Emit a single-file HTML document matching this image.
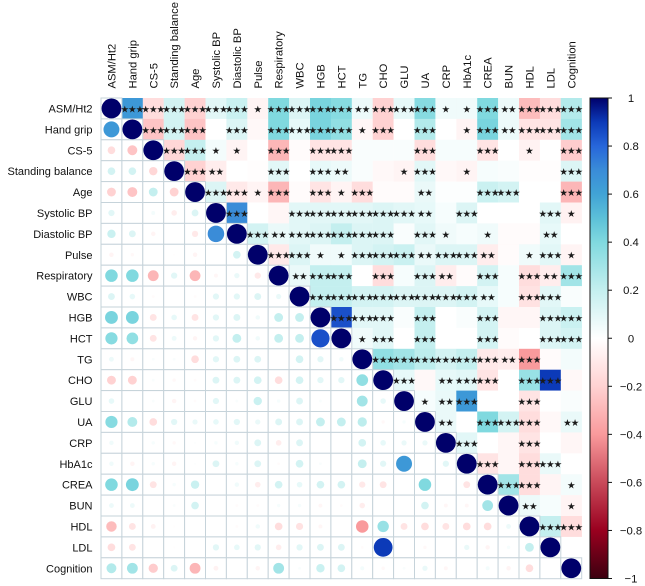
<!DOCTYPE html>
<html>
<head>
<meta charset="utf-8">
<style>
html,body{margin:0;padding:0;background:#fff;width:645px;height:586px;overflow:hidden}
svg{display:block}
text{font-family:"Liberation Sans",Arial,sans-serif;fill:#111}
.star{font-family:"DejaVu Sans",sans-serif;fill:#1a1a1a;letter-spacing:-1px}
</style>
</head>
<body>
<svg id="chart" width="645" height="586" viewBox="0 0 645 586" xmlns="http://www.w3.org/2000/svg"></svg>
<script>
const variables = ["ASM/Ht2","Hand grip","CS-5","Standing balance","Age","Systolic BP","Diastolic BP","Pulse","Respiratory","WBC","HGB","HCT","TG","CHO","GLU","UA","CRP","HbA1c","CREA","BUN","HDL","LDL","Cognition"];

// Upper triangle of the correlation matrix: each row starts right after the diagonal.
const correlations = [
[0.65,-0.15,0.15,-0.2,0.1,0.18,-0.05,0.4,0.12,0.42,0.38,0.06,-0.2,0.08,0.38,0.05,0.05,0.4,0.06,-0.28,-0.15,0.25],
[-0.25,0.15,-0.25,0,0.12,-0.03,0.4,0.08,0.42,0.35,-0.04,-0.2,0,0.25,0,-0.05,0.42,0.06,-0.12,-0.12,0.3],
[-0.18,0.2,0.04,-0.05,0,-0.3,-0.02,-0.12,-0.12,0.02,0.02,0.02,-0.15,0.03,0.03,-0.12,0,-0.06,0,-0.22],
[-0.2,-0.08,0,-0.01,0.1,0,0.08,0.06,0.02,-0.03,-0.05,0.1,-0.03,-0.05,0.03,0.02,-0.01,-0.01,0.12],
[0.12,-0.1,-0.05,-0.3,-0.02,-0.12,-0.05,-0.15,-0.02,-0.02,0.07,0.01,0.01,0.18,0.15,0,0,-0.3],
[0.7,0,-0.04,0.1,0.1,0.1,0.1,0.12,0.1,0.08,0.03,0.12,0,0,0,0.1,-0.06],
[0.15,0.07,0.1,0.12,0.2,0.12,0.12,0.02,0.1,0.05,0.03,0.05,-0.02,-0.02,0.08,0],
[-0.1,0.12,0.05,0.05,0.12,0.15,0.18,0.07,0.12,0.12,-0.08,-0.02,0.05,0.1,-0.05],
[0.07,0.2,0.2,0,-0.15,0.03,0.12,-0.08,-0.02,0.15,0.03,-0.15,-0.08,0.3],
[0.2,0.2,0.15,0.15,0.12,0.12,0.12,0.15,0.08,0.03,-0.13,0.1,0.02],
[0.85,0.1,0.1,0.02,0.2,0,0.02,0.15,-0.04,-0.04,0.12,0.18],
[0.05,0.1,0,0.2,0,0,0.15,-0.02,0,0.12,0.15],
[0.35,0.3,0.22,0.15,0.2,-0.1,-0.08,-0.4,-0.02,0.04],
[0.08,-0.03,0.08,0.1,-0.12,0,0.33,0.9,-0.03],
[0.03,0.07,0.65,0,0,-0.12,0,0.02],
[0.07,0,0.4,0.15,-0.15,-0.03,0.07],
[0.1,0,-0.04,-0.12,0,-0.04],
[-0.12,-0.04,-0.15,0.07,0],
[0.3,-0.15,-0.05,0.04],
[0.06,0.03,-0.05],
[0.2,-0.15],
[0]
];

// Significance stars for the same upper-triangle cells.
const starCounts = [
[3,3,3,3,3,3,1,3,3,3,3,2,3,3,3,1,1,3,2,3,3,3],
[3,3,3,0,3,0,3,3,3,3,1,3,0,3,0,1,3,2,3,3,3],
[3,3,1,1,0,3,0,3,3,0,0,0,3,0,0,3,0,1,0,3],
[3,2,0,0,3,0,3,2,0,0,1,3,0,1,0,0,0,0,3],
[3,3,1,3,0,3,1,3,0,0,2,0,0,3,3,0,0,3],
[3,0,0,3,3,3,3,3,3,2,0,3,0,0,0,3,1],
[3,2,3,3,3,3,3,0,3,1,0,1,0,0,2,0],
[3,3,1,1,3,3,3,2,3,3,2,0,1,3,1],
[2,3,3,0,3,0,3,2,0,3,0,3,2,3],
[3,3,3,3,3,3,3,3,2,0,3,3,0],
[3,3,3,0,3,0,0,3,0,0,3,3],
[1,3,0,3,0,0,3,0,0,3,3],
[3,3,3,3,3,3,2,3,0,0],
[3,0,2,3,3,0,3,3,0],
[1,2,3,0,0,3,0,0],
[2,0,3,3,3,0,2],
[3,0,0,3,0,0],
[3,0,3,3,0],
[3,3,0,1],
[2,0,1],
[3,3],
[0]
];

const colorbarTicks = [1,0.8,0.6,0.4,0.2,0,-0.2,-0.4,-0.6,-0.8,-1];

const NS = "http://www.w3.org/2000/svg";
const svg = document.getElementById("chart");
const left = 101, top_ = 98, cell = 20.9, n = variables.length;
const barX = 590, barW = 18, barTop = 98, barBottom = 578.5;

const scalePos = i => i * cell;
const xAt = i => left + scalePos(i);
const yAt = i => top_ + scalePos(i);
const barY = v => barTop + (1 - v) / 2 * (barBottom - barTop);

const ramp = [[1,"#00006a"],[0.9,"#0c3ab8"],[0.8,"#2766da"],[0.7,"#3a8cd8"],[0.6,"#41a3d6"],[0.5,"#5cc0d8"],[0.4,"#80d9df"],[0.2,"#c4efef"],[0,"#ffffff"],[-0.2,"#ffd2d2"],[-0.4,"#f99a9c"],[-0.6,"#c94a5a"],[-0.8,"#99001f"],[-1,"#3c0010"]];
function hex(c){return [1,3,5].map(k=>parseInt(c.substr(k,2),16));}
function color(v){
  for(let i=0;i<ramp.length-1;i++){
    const a=ramp[i],b=ramp[i+1];
    if(v<=a[0]&&v>=b[0]){
      const t=(a[0]-v)/(a[0]-b[0]),ca=hex(a[1]),cb=hex(b[1]);
      return "rgb("+ca.map((x,k)=>Math.round(x+(cb[k]-x)*t)).join(",")+")";
    }
  }
  return "#fff";
}
function mk(tag,attrs,parent){
  const e=document.createElementNS(NS,tag);
  for(const k in attrs)e.setAttribute(k,attrs[k]);
  (parent||svg).appendChild(e);
  return e;
}
function slug(s){return s.toLowerCase().replace(/[^a-z0-9]+/g,"-");}

const defs = mk("defs",{});
const grad = mk("linearGradient",{id:"barGrad",x1:0,y1:0,x2:0,y2:1},defs);
ramp.forEach(r=>mk("stop",{offset:(1-r[0])/2,"stop-color":r[1]},grad));

// upper-triangle tiles
correlations.forEach((row,i)=>row.forEach((v,k)=>{
  const j=i+1+k;
  const tile=mk("rect",{x:xAt(j),y:yAt(i),width:cell+0.2,height:cell+0.2,fill:color(v)});
  
  
}));

// lower-triangle and diagonal grid
for(let i=0;i<n;i++){
  for(let j=0;j<=i;j++){
    const box=mk("rect",{x:xAt(j),y:yAt(i),width:cell,height:cell,fill:"#fff",stroke:"#c6d3da","stroke-width":1});
    
    
  }
}

// circles
function drawCircle(i,j,v){
  const c=mk("circle",{cx:xAt(j)+cell/2,cy:yAt(i)+cell/2,r:Math.sqrt(Math.abs(v))*9.9,fill:color(v)});
  
  
}
correlations.forEach((row,j)=>row.forEach((v,k)=>{
  if(v!==0)drawCircle(j+1+k,j,v);
}));
for(let i=0;i<n;i++)drawCircle(i,i,1);

// stars
starCounts.forEach((row,i)=>row.forEach((count,k)=>{
  if(!count)return;
  const j=i+1+k;
  const t=mk("text",{x:xAt(j)+cell/2-0.5,y:yAt(i)+cell/2+3.9,"text-anchor":"middle","font-size":9.6,class:"star"});
  t.textContent="★".repeat(count);
  
  
}));

// axis labels
variables.forEach((name,i)=>{
  const rowLabel=mk("text",{x:92.5,y:yAt(i)+cell/2+4,"text-anchor":"end","font-size":11});
  rowLabel.textContent=name;
  
  
  const cx=xAt(i)+cell/2+4, cy=88.5;
  const colLabel=mk("text",{x:cx,y:cy,"font-size":11.2,transform:"rotate(-90 "+cx+" "+cy+")"});
  colLabel.textContent=name;
  
  
});

// colour bar
const bar=mk("rect",{x:barX,y:barTop,width:barW,height:barBottom-barTop,fill:"url(#barGrad)",stroke:"#111","stroke-width":1});


colorbarTicks.forEach(v=>{
  const y=barY(v);
  const tick=mk("line",{x1:barX+barW,x2:barX+barW+4,y1:y,y2:y,stroke:"#111","stroke-width":1});
  
  
  const lab=mk("text",{x:631,y:y+4,"text-anchor":"middle","font-size":11.3});
  lab.textContent=(v<0?"−":"")+Math.abs(v);
  
  
});
</script>
</body>
</html>
